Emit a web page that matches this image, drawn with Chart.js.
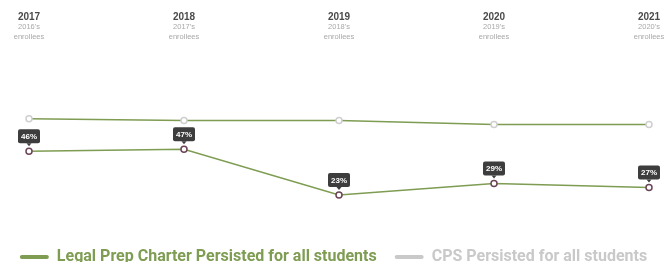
<!DOCTYPE html>
<html>
<head>
<meta charset="utf-8">
<script src="https://cdn.jsdelivr.net/npm/chart.js@4"></script>
<style>
  html, body { margin: 0; padding: 0; background: #fff; }
  #wrap { width: 667px; height: 262px; }
</style>
</head>
<body>
<div id="wrap"><canvas id="persistChart"></canvas></div>
<script>
const years = ['2017', '2018', '2019', '2020', '2021'];
const cohorts = ["2016's", "2017's", "2018's", "2019's", "2020's"];
const legalPrep = [46, 47, 23, 29, 27];
const cps = [63, 62, 62, 60, 60];

const GREEN = '#7e9c52';
const GREY = '#c9c9c9';

// year + cohort headers drawn along the top of the x scale
const headerPlugin = {
    id: 'headers',
    afterDraw(chart) {
        const ctx = chart.ctx;
        const xScale = chart.scales.x;
        ctx.save();
        ctx.textAlign = 'center';
        ctx.textBaseline = 'middle';
        years.forEach((yr, i) => {
            const x = xScale.getPixelForValue(i);
            ctx.fillStyle = '#4a4a4a';
            ctx.font = 'bold 10px "Liberation Sans", Arial, sans-serif';
            ctx.fillText(yr, x, 17);
            ctx.fillStyle = '#a8a8a8';
            ctx.font = '7.5px "Liberation Sans", Arial, sans-serif';
            ctx.fillText(cohorts[i], x, 27);
            ctx.fillText('enrollees', x, 37);
        });
        ctx.restore();
    }
};

// dark percentage badges above Legal Prep points
const badgePlugin = {
    id: 'badges',
    afterDatasetsDraw(chart) {
        const ctx = chart.ctx;
        const meta = chart.getDatasetMeta(0);
        ctx.save();
        ctx.font = 'bold 8px "Liberation Sans", Arial, sans-serif';
        ctx.textAlign = 'center';
        ctx.textBaseline = 'middle';
        meta.data.forEach((pt, i) => {
            const w = 22, h = 14;
            const bx = pt.x - w / 2;
            const by = pt.y - 8 - h;
            ctx.fillStyle = '#3d3d3d';
            ctx.beginPath();
            ctx.roundRect(bx, by, w, h, 2);
            ctx.fill();
            ctx.beginPath();
            ctx.moveTo(pt.x - 2.5, by + h);
            ctx.lineTo(pt.x + 2.5, by + h);
            ctx.lineTo(pt.x, by + h + 3);
            ctx.closePath();
            ctx.fill();
            ctx.fillStyle = '#ffffff';
            ctx.fillText(legalPrep[i] + '%', pt.x, by + h / 2 + 0.5);
        });
        ctx.restore();
    }
};

const ctx = document.getElementById('persistChart');

new Chart(ctx, {
    type: 'line',
    data: {
        labels: years,
        datasets: [{
            label: 'Legal Prep Charter Persisted for all students',
            data: legalPrep,
            borderColor: GREEN,
            backgroundColor: GREEN,
            borderWidth: 1.5,
            tension: 0,
            pointRadius: 3,
            pointBorderWidth: 1.5,
            pointBackgroundColor: '#ffffff',
            pointBorderColor: '#6b4456'
        }, {
            label: 'CPS Persisted for all students',
            data: cps,
            borderColor: GREEN,
            backgroundColor: GREY,
            borderWidth: 1.5,
            tension: 0,
            pointRadius: 3,
            pointBorderWidth: 1.5,
            pointBackgroundColor: '#ffffff',
            pointBorderColor: '#cfcfcf'
        }]
    },
    options: {
        responsive: true,
        maintainAspectRatio: false,
        animation: false,
        layout: {
            padding: { top: 48, left: 0, right: 0, bottom: 0 }
        },
        plugins: {
            tooltip: { enabled: false },
            legend: {
                position: 'bottom',
                maxHeight: 23,
                labels: {
                    boxWidth: 29,
                    boxHeight: 4,
                    useBorderRadius: true,
                    borderRadius: 2,
                    padding: 10,
                    font: {
                        family: 'Roboto',
                        size: 16,
                        weight: 'bold'
                    },
                    generateLabels: function (chart) {
                        const cols = [GREEN, GREY];
                        return chart.data.datasets.map((ds, i) => ({
                            // trailing spaces widen the gap between the two items
                            text: i === 0 ? ds.label + '  ' : ds.label,
                            fillStyle: cols[i],
                            strokeStyle: cols[i],
                            lineWidth: 0,
                            fontColor: cols[i],
                            datasetIndex: i,
                            borderRadius: 2
                        }));
                    }
                }
            }
        },
        scales: {
            x: {
                display: false,
                offset: false
            },
            y: {
                min: 0,
                max: 100,
                ticks: { display: false },
                grid: { display: false },
                border: { display: false },
                afterFit: function (scale) { scale.width = 29; }
            },
            yRight: {
                position: 'right',
                min: 0,
                max: 100,
                ticks: { display: false },
                grid: { display: false },
                border: { display: false },
                afterFit: function (scale) { scale.width = 18; }
            }
        }
    },
    plugins: [headerPlugin, badgePlugin]
});
</script>
</body>
</html>
